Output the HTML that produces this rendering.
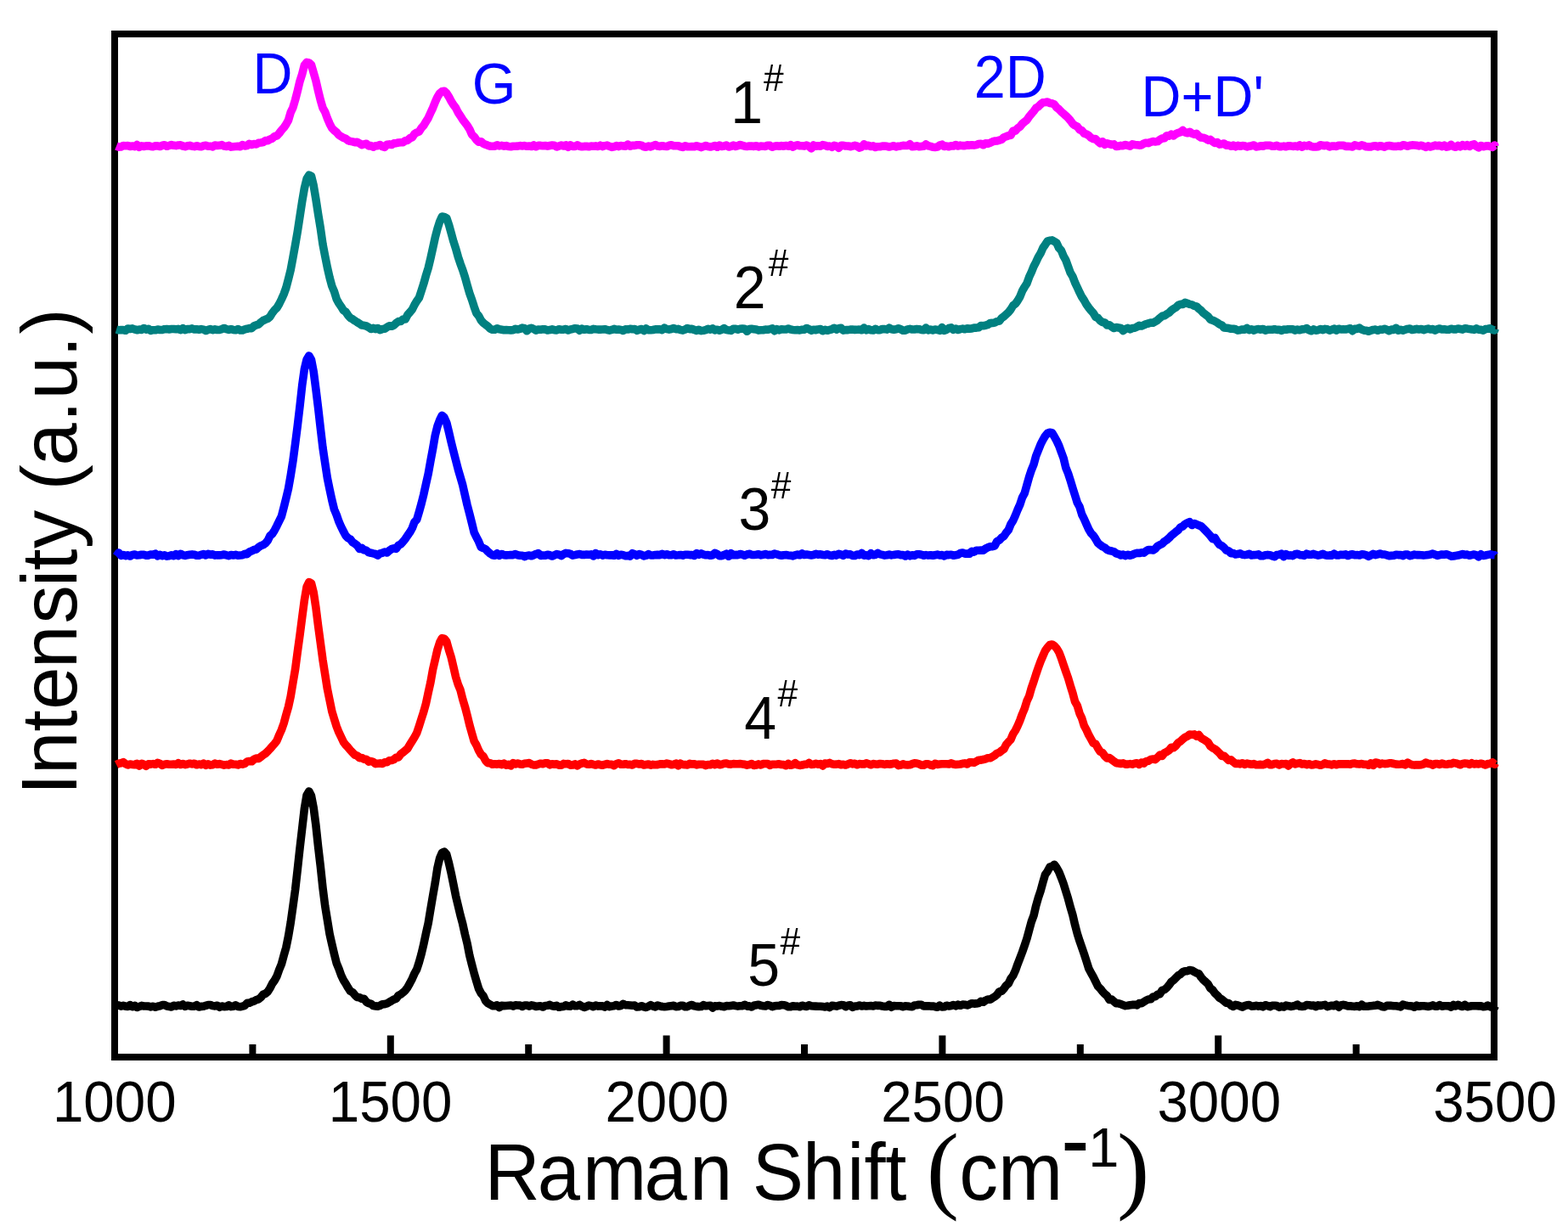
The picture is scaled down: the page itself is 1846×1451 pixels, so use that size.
<!DOCTYPE html>
<html><head><meta charset="utf-8"><title>Raman spectra</title>
<style>html,body{margin:0;padding:0;background:#fff;overflow:hidden}svg{display:block}</style>
</head><body>
<svg width="1846" height="1451" viewBox="0 0 1846 1451"><rect x="0" y="0" width="1846" height="1451" fill="#ffffff"/>
<rect x="135" y="40" width="1624" height="1205" fill="none" stroke="#000" stroke-width="8"/>
<polyline points="137.0,172.0 139.7,173.1 142.4,173.0 145.1,171.6 147.8,171.8 150.5,171.6 153.2,172.5 155.9,172.0 158.6,172.6 161.3,170.5 164.0,173.3 166.7,171.9 169.4,172.5 172.1,171.9 174.8,171.7 177.5,172.4 180.2,172.7 182.9,171.8 185.6,171.9 188.3,172.5 191.0,171.3 193.7,170.8 196.4,172.3 199.1,171.5 201.8,170.5 204.5,171.3 207.2,171.6 209.9,171.0 212.6,170.8 215.3,172.0 218.0,172.7 220.7,171.8 223.4,171.4 226.1,172.3 228.8,172.6 231.5,171.8 234.2,172.4 236.9,172.8 239.6,171.8 242.3,171.3 245.0,172.3 247.7,172.2 250.4,172.9 253.1,171.0 255.8,171.5 258.5,171.3 261.2,170.6 263.9,172.1 266.6,172.4 269.3,171.4 272.0,173.1 274.7,172.7 277.4,172.5 280.1,172.3 282.8,172.7 285.5,170.6 288.2,171.9 290.9,171.5 293.6,169.3 296.3,170.5 299.0,169.6 301.7,169.9 304.4,168.3 307.1,168.0 309.8,167.5 312.5,165.6 315.2,165.8 317.9,164.0 320.6,163.1 323.3,160.6 326.0,159.8 328.7,157.0 331.4,153.4 334.1,150.4 336.8,146.5 339.5,141.6 342.2,132.4 344.9,126.7 347.6,117.5 350.3,107.1 353.0,95.7 355.7,87.3 358.4,76.8 361.1,73.4 363.8,73.9 366.5,76.3 369.2,85.6 371.9,95.0 374.6,106.9 377.3,117.9 380.0,127.2 382.7,131.9 385.4,139.3 388.1,145.7 390.8,150.9 393.5,153.6 396.2,155.7 398.9,159.0 401.6,160.7 404.3,162.3 407.0,163.3 409.7,165.4 412.4,166.4 415.1,166.9 417.8,167.6 420.5,167.4 423.2,168.7 425.9,170.6 428.6,169.9 431.3,169.3 434.0,171.9 436.7,171.6 439.4,173.2 442.1,171.8 444.8,171.6 447.5,170.6 450.2,172.6 452.9,173.3 455.6,170.2 458.3,169.9 461.0,170.5 463.7,168.9 466.4,168.7 469.1,168.0 471.8,167.7 474.5,167.6 477.2,165.7 479.9,165.2 482.6,162.8 485.3,161.7 488.0,157.8 490.7,156.0 493.4,155.0 496.1,150.7 498.8,147.8 501.5,143.3 504.2,138.9 506.9,132.9 509.6,127.1 512.3,120.2 515.0,114.2 517.7,109.9 520.4,107.7 523.1,107.2 525.8,109.8 528.5,114.1 531.2,119.2 533.9,123.6 536.6,127.0 539.3,132.5 542.0,136.4 544.7,140.8 547.4,144.4 550.1,147.9 552.8,152.2 555.5,158.4 558.2,160.9 560.9,164.7 563.6,167.2 566.3,166.7 569.0,169.1 571.7,170.3 574.4,171.3 577.1,172.1 579.8,172.2 582.5,172.1 585.2,170.8 587.9,171.9 590.6,171.4 593.3,172.1 596.0,171.6 598.7,172.5 601.4,172.7 604.1,172.2 606.8,172.3 609.5,172.1 612.2,171.6 614.9,171.9 617.6,171.6 620.3,172.3 623.0,172.0 625.7,172.5 628.4,170.9 631.1,172.7 633.8,171.4 636.5,171.4 639.2,171.8 641.9,171.5 644.6,172.2 647.3,171.5 650.0,171.1 652.7,171.3 655.4,173.0 658.1,172.0 660.8,171.1 663.5,172.0 666.2,170.8 668.9,173.4 671.6,170.8 674.3,172.4 677.0,172.4 679.7,170.8 682.4,172.2 685.1,172.8 687.8,172.4 690.5,172.2 693.2,172.8 695.9,172.1 698.6,172.3 701.3,171.9 704.0,172.5 706.7,171.2 709.4,172.6 712.1,171.6 714.8,171.1 717.5,172.3 720.2,173.4 722.9,172.8 725.6,171.6 728.3,172.6 731.0,171.6 733.7,171.9 736.4,172.1 739.1,170.1 741.8,172.2 744.5,171.2 747.2,171.4 749.9,170.8 752.6,170.8 755.3,171.2 758.0,172.7 760.7,173.3 763.4,172.0 766.1,172.9 768.8,171.8 771.5,170.5 774.2,172.1 776.9,172.4 779.6,171.7 782.3,172.2 785.0,172.5 787.7,171.3 790.4,170.8 793.1,171.8 795.8,171.8 798.5,171.7 801.2,172.8 803.9,173.4 806.6,171.7 809.3,172.6 812.0,172.8 814.7,172.6 817.4,172.8 820.1,171.7 822.8,172.6 825.5,173.6 828.2,172.6 830.9,171.5 833.6,172.5 836.3,173.0 839.0,172.3 841.7,171.5 844.4,173.2 847.1,171.0 849.8,172.4 852.5,172.0 855.2,171.0 857.9,173.0 860.6,172.3 863.3,171.1 866.0,172.5 868.7,171.7 871.4,170.5 874.1,171.4 876.8,172.2 879.5,172.5 882.2,172.1 884.9,172.0 887.6,172.4 890.3,171.8 893.0,172.9 895.7,172.1 898.4,172.2 901.1,172.4 903.8,171.2 906.5,171.4 909.2,173.2 911.9,172.3 914.6,171.8 917.3,172.3 920.0,171.6 922.7,172.2 925.4,171.5 928.1,172.2 930.8,170.7 933.5,173.1 936.2,171.6 938.9,170.7 941.6,171.8 944.3,171.7 947.0,172.1 949.7,171.1 952.4,172.3 955.1,174.9 957.8,171.0 960.5,172.3 963.2,171.8 965.9,172.2 968.6,170.6 971.3,171.1 974.0,172.4 976.7,172.0 979.4,173.3 982.1,171.4 984.8,172.1 987.5,174.3 990.2,171.4 992.9,171.3 995.6,172.0 998.3,172.0 1001.0,172.7 1003.7,172.1 1006.4,171.4 1009.1,172.2 1011.8,174.1 1014.5,173.0 1017.2,169.8 1019.9,171.9 1022.6,171.3 1025.3,172.5 1028.0,171.9 1030.7,173.5 1033.4,172.7 1036.1,172.7 1038.8,172.1 1041.5,172.0 1044.2,172.3 1046.9,173.0 1049.6,172.4 1052.3,171.7 1055.0,173.0 1057.7,172.2 1060.4,171.9 1063.1,171.4 1065.8,171.5 1068.5,171.5 1071.2,169.8 1073.9,172.8 1076.6,172.5 1079.3,171.8 1082.0,172.8 1084.7,172.4 1087.4,172.3 1090.1,170.0 1092.8,171.8 1095.5,172.4 1098.2,173.3 1100.9,173.5 1103.6,173.1 1106.3,171.1 1109.0,170.2 1111.7,172.5 1114.4,172.0 1117.1,172.8 1119.8,171.8 1122.5,172.0 1125.2,170.5 1127.9,172.0 1130.6,171.1 1133.3,171.6 1136.0,171.6 1138.7,170.9 1141.4,171.1 1144.1,170.7 1146.8,171.1 1149.5,170.6 1152.2,169.5 1154.9,169.2 1157.6,170.7 1160.3,168.8 1163.0,169.3 1165.7,168.3 1168.4,166.9 1171.1,166.1 1173.8,166.0 1176.5,165.1 1179.2,164.4 1181.9,161.7 1184.6,160.8 1187.3,159.7 1190.0,159.3 1192.7,154.1 1195.4,154.2 1198.1,151.0 1200.8,149.2 1203.5,145.7 1206.2,143.5 1208.9,141.4 1211.6,137.3 1214.3,134.2 1217.0,131.0 1219.7,127.2 1222.4,125.6 1225.1,122.9 1227.8,120.8 1230.5,120.5 1233.2,120.1 1235.9,121.4 1238.6,121.8 1241.3,123.0 1244.0,126.7 1246.7,128.7 1249.4,131.6 1252.1,133.9 1254.8,136.3 1257.5,138.9 1260.2,142.0 1262.9,145.8 1265.6,147.8 1268.3,149.1 1271.0,152.7 1273.7,153.8 1276.4,157.1 1279.1,158.0 1281.8,159.6 1284.5,162.3 1287.2,163.6 1289.9,163.6 1292.6,166.6 1295.3,168.8 1298.0,166.7 1300.7,170.2 1303.4,168.8 1306.1,169.6 1308.8,170.4 1311.5,169.9 1314.2,172.5 1316.9,172.2 1319.6,171.4 1322.3,171.7 1325.0,170.5 1327.7,171.3 1330.4,172.1 1333.1,169.8 1335.8,170.5 1338.5,170.7 1341.2,171.1 1343.9,170.9 1346.6,169.0 1349.3,168.2 1352.0,168.6 1354.7,167.3 1357.4,166.6 1360.1,166.9 1362.8,166.6 1365.5,164.5 1368.2,163.1 1370.9,162.7 1373.6,159.7 1376.3,160.1 1379.0,158.2 1381.7,159.9 1384.4,157.7 1387.1,156.5 1389.8,155.6 1392.5,153.4 1395.2,155.9 1397.9,156.8 1400.6,155.3 1403.3,157.2 1406.0,158.1 1408.7,157.3 1411.4,160.4 1414.1,162.0 1416.8,162.3 1419.5,163.3 1422.2,165.1 1424.9,164.4 1427.6,166.7 1430.3,168.4 1433.0,167.5 1435.7,170.1 1438.4,169.7 1441.1,169.0 1443.8,171.2 1446.5,171.0 1449.2,172.3 1451.9,171.1 1454.6,172.8 1457.3,171.4 1460.0,172.3 1462.7,171.5 1465.4,171.7 1468.1,173.0 1470.8,172.2 1473.5,171.7 1476.2,171.0 1478.9,172.9 1481.6,172.6 1484.3,171.7 1487.0,172.2 1489.7,171.2 1492.4,171.2 1495.1,171.3 1497.8,172.3 1500.5,172.2 1503.2,171.4 1505.9,172.6 1508.6,172.6 1511.3,172.1 1514.0,172.8 1516.7,171.8 1519.4,171.9 1522.1,172.4 1524.8,172.0 1527.5,172.6 1530.2,171.0 1532.9,173.1 1535.6,171.4 1538.3,171.9 1541.0,170.9 1543.7,172.5 1546.4,173.0 1549.1,172.9 1551.8,172.7 1554.5,170.8 1557.2,171.4 1559.9,171.6 1562.6,171.3 1565.3,172.9 1568.0,172.1 1570.7,172.0 1573.4,172.4 1576.1,171.2 1578.8,171.3 1581.5,171.3 1584.2,172.4 1586.9,172.3 1589.6,172.5 1592.3,172.9 1595.0,170.9 1597.7,171.6 1600.4,172.1 1603.1,170.9 1605.8,171.6 1608.5,172.8 1611.2,172.9 1613.9,172.9 1616.6,172.0 1619.3,171.8 1622.0,172.9 1624.7,171.7 1627.4,172.3 1630.1,173.1 1632.8,171.7 1635.5,171.5 1638.2,172.0 1640.9,172.5 1643.6,172.4 1646.3,172.1 1649.0,172.4 1651.7,170.7 1654.4,171.3 1657.1,172.1 1659.8,171.3 1662.5,170.9 1665.2,171.0 1667.9,171.3 1670.6,171.9 1673.3,171.2 1676.0,172.2 1678.7,173.4 1681.4,171.9 1684.1,173.0 1686.8,172.2 1689.5,171.1 1692.2,171.8 1694.9,171.2 1697.6,172.6 1700.3,171.1 1703.0,173.1 1705.7,172.5 1708.4,170.4 1711.1,172.6 1713.8,173.2 1716.5,171.4 1719.2,172.8 1721.9,170.6 1724.6,172.2 1727.3,170.7 1730.0,172.4 1732.7,170.6 1735.4,169.9 1738.1,172.3 1740.8,173.8 1743.5,171.5 1746.2,172.7 1748.9,172.1 1751.6,171.7 1754.3,172.5 1757.0,173.3 1759.7,171.0 1760.0,172.5" fill="none" stroke="#FF00FF" stroke-width="9.6" stroke-linejoin="round" stroke-linecap="butt"/>
<polyline points="137.0,388.0 139.7,388.8 142.4,388.6 145.1,388.6 147.8,389.3 150.5,387.0 153.2,387.5 155.9,386.9 158.6,387.9 161.3,388.8 164.0,388.0 166.7,388.4 169.4,386.5 172.1,388.1 174.8,387.3 177.5,389.4 180.2,388.7 182.9,388.8 185.6,388.0 188.3,388.5 191.0,388.5 193.7,387.7 196.4,387.6 199.1,387.9 201.8,387.5 204.5,387.5 207.2,387.8 209.9,387.4 212.6,388.6 215.3,386.7 218.0,388.7 220.7,387.5 223.4,387.6 226.1,386.9 228.8,387.9 231.5,387.8 234.2,388.2 236.9,387.6 239.6,388.1 242.3,389.5 245.0,388.3 247.7,387.5 250.4,388.8 253.1,387.9 255.8,388.5 258.5,388.5 261.2,387.7 263.9,386.5 266.6,387.7 269.3,388.4 272.0,387.7 274.7,388.4 277.4,388.8 280.1,387.6 282.8,389.0 285.5,389.0 288.2,387.9 290.9,387.3 293.6,386.5 296.3,386.6 299.0,384.0 301.7,382.8 304.4,382.1 307.1,379.5 309.8,377.5 312.5,376.3 315.2,375.3 317.9,373.0 320.6,368.6 323.3,365.1 326.0,362.5 328.7,358.0 331.4,352.5 334.1,346.5 336.8,339.0 339.5,328.8 342.2,317.9 344.9,303.4 347.6,288.3 350.3,272.7 353.0,255.1 355.7,237.4 358.4,221.6 361.1,210.6 363.8,206.2 366.5,207.4 369.2,218.5 371.9,234.6 374.6,252.3 377.3,268.6 380.0,287.6 382.7,301.6 385.4,315.1 388.1,327.0 390.8,337.0 393.5,343.4 396.2,352.2 398.9,357.1 401.6,361.1 404.3,365.5 407.0,367.3 409.7,371.3 412.4,374.4 415.1,375.8 417.8,377.8 420.5,379.5 423.2,381.1 425.9,383.0 428.6,383.3 431.3,384.0 434.0,385.5 436.7,387.5 439.4,386.3 442.1,387.6 444.8,386.5 447.5,388.7 450.2,387.5 452.9,387.3 455.6,385.4 458.3,383.8 461.0,384.3 463.7,383.1 466.4,380.5 469.1,378.6 471.8,378.5 474.5,376.0 477.2,376.0 479.9,370.8 482.6,367.8 485.3,364.5 488.0,359.0 490.7,354.6 493.4,350.7 496.1,342.4 498.8,334.1 501.5,324.4 504.2,315.6 506.9,304.4 509.6,292.1 512.3,279.7 515.0,269.4 517.7,260.9 520.4,255.0 523.1,255.4 525.8,256.9 528.5,264.7 531.2,274.6 533.9,284.4 536.6,292.8 539.3,302.4 542.0,310.6 544.7,317.9 547.4,326.3 550.1,336.1 552.8,345.3 555.5,352.9 558.2,361.3 560.9,368.9 563.6,372.1 566.3,377.2 569.0,380.2 571.7,382.4 574.4,384.4 577.1,387.1 579.8,388.3 582.5,388.2 585.2,386.8 587.9,387.8 590.6,388.3 593.3,388.8 596.0,388.5 598.7,388.7 601.4,388.9 604.1,388.7 606.8,387.3 609.5,388.0 612.2,387.4 614.9,386.1 617.6,386.7 620.3,389.7 623.0,387.1 625.7,386.2 628.4,387.5 631.1,389.2 633.8,388.0 636.5,388.3 639.2,387.8 641.9,387.9 644.6,389.0 647.3,388.6 650.0,387.9 652.7,388.7 655.4,388.9 658.1,387.8 660.8,388.2 663.5,388.2 666.2,387.5 668.9,388.9 671.6,387.9 674.3,387.5 677.0,386.7 679.7,387.0 682.4,389.2 685.1,387.1 687.8,388.3 690.5,387.7 693.2,388.4 695.9,388.5 698.6,387.4 701.3,387.8 704.0,388.1 706.7,388.1 709.4,388.0 712.1,387.7 714.8,388.5 717.5,389.1 720.2,388.4 722.9,387.4 725.6,388.3 728.3,388.0 731.0,388.4 733.7,389.5 736.4,387.8 739.1,388.0 741.8,387.3 744.5,387.8 747.2,387.5 749.9,389.3 752.6,388.2 755.3,387.5 758.0,389.5 760.7,386.9 763.4,388.7 766.1,388.8 768.8,388.5 771.5,387.8 774.2,387.9 776.9,387.7 779.6,388.6 782.3,386.1 785.0,387.6 787.7,388.1 790.4,387.5 793.1,386.5 795.8,387.8 798.5,387.4 801.2,388.6 803.9,389.1 806.6,388.1 809.3,386.5 812.0,387.8 814.7,387.3 817.4,388.5 820.1,389.4 822.8,388.3 825.5,389.6 828.2,389.2 830.9,388.6 833.6,387.3 836.3,388.2 839.0,386.9 841.7,388.9 844.4,388.2 847.1,389.2 849.8,388.3 852.5,386.6 855.2,388.6 857.9,388.9 860.6,389.4 863.3,387.3 866.0,387.4 868.7,388.2 871.4,387.3 874.1,387.0 876.8,387.2 879.5,390.2 882.2,387.6 884.9,387.3 887.6,387.7 890.3,388.1 893.0,389.1 895.7,388.8 898.4,388.7 901.1,388.1 903.8,388.2 906.5,387.6 909.2,386.9 911.9,389.7 914.6,387.7 917.3,388.9 920.0,387.8 922.7,388.0 925.4,388.0 928.1,387.0 930.8,388.0 933.5,388.4 936.2,388.7 938.9,388.5 941.6,388.9 944.3,388.3 947.0,388.1 949.7,386.5 952.4,387.6 955.1,389.3 957.8,388.2 960.5,388.7 963.2,387.9 965.9,387.5 968.6,389.7 971.3,388.4 974.0,389.3 976.7,388.5 979.4,387.8 982.1,386.3 984.8,388.1 987.5,386.8 990.2,386.3 992.9,389.1 995.6,388.6 998.3,388.6 1001.0,388.1 1003.7,388.0 1006.4,388.4 1009.1,388.2 1011.8,388.1 1014.5,388.7 1017.2,386.1 1019.9,388.8 1022.6,387.6 1025.3,388.7 1028.0,389.0 1030.7,387.4 1033.4,388.7 1036.1,388.7 1038.8,387.5 1041.5,387.6 1044.2,388.1 1046.9,386.2 1049.6,387.7 1052.3,388.2 1055.0,387.7 1057.7,386.7 1060.4,387.7 1063.1,389.2 1065.8,389.1 1068.5,387.9 1071.2,387.4 1073.9,388.0 1076.6,388.0 1079.3,387.5 1082.0,387.7 1084.7,388.5 1087.4,388.8 1090.1,386.1 1092.8,388.8 1095.5,388.1 1098.2,388.9 1100.9,388.0 1103.6,388.4 1106.3,389.3 1109.0,385.6 1111.7,389.3 1114.4,388.2 1117.1,386.5 1119.8,385.9 1122.5,388.3 1125.2,387.0 1127.9,388.5 1130.6,387.6 1133.3,387.1 1136.0,387.8 1138.7,386.9 1141.4,387.1 1144.1,386.9 1146.8,386.1 1149.5,386.1 1152.2,385.7 1154.9,383.5 1157.6,383.8 1160.3,383.3 1163.0,382.4 1165.7,380.6 1168.4,380.4 1171.1,380.0 1173.8,378.6 1176.5,378.1 1179.2,374.6 1181.9,372.7 1184.6,370.2 1187.3,367.7 1190.0,364.4 1192.7,359.9 1195.4,357.8 1198.1,354.1 1200.8,349.5 1203.5,342.7 1206.2,338.0 1208.9,333.8 1211.6,326.3 1214.3,320.5 1217.0,313.8 1219.7,308.6 1222.4,302.7 1225.1,298.3 1227.8,292.1 1230.5,288.2 1233.2,284.1 1235.9,283.2 1238.6,282.9 1241.3,284.4 1244.0,286.3 1246.7,292.1 1249.4,295.0 1252.1,301.6 1254.8,306.3 1257.5,313.9 1260.2,321.3 1262.9,325.7 1265.6,332.9 1268.3,338.5 1271.0,344.4 1273.7,349.8 1276.4,353.8 1279.1,358.7 1281.8,362.4 1284.5,365.8 1287.2,368.7 1289.9,373.3 1292.6,374.5 1295.3,377.8 1298.0,379.6 1300.7,380.0 1303.4,383.0 1306.1,382.7 1308.8,384.9 1311.5,386.5 1314.2,385.5 1316.9,386.0 1319.6,386.5 1322.3,389.6 1325.0,387.4 1327.7,386.4 1330.4,387.8 1333.1,386.6 1335.8,386.3 1338.5,385.0 1341.2,383.4 1343.9,384.0 1346.6,382.9 1349.3,381.6 1352.0,381.0 1354.7,380.0 1357.4,380.2 1360.1,378.8 1362.8,377.1 1365.5,374.6 1368.2,372.3 1370.9,371.7 1373.6,369.9 1376.3,368.4 1379.0,365.6 1381.7,363.6 1384.4,362.1 1387.1,359.5 1389.8,358.3 1392.5,358.5 1395.2,356.4 1397.9,357.3 1400.6,358.4 1403.3,358.9 1406.0,360.4 1408.7,360.9 1411.4,363.7 1414.1,365.7 1416.8,368.7 1419.5,370.7 1422.2,372.6 1424.9,376.2 1427.6,377.2 1430.3,378.4 1433.0,379.9 1435.7,381.9 1438.4,382.9 1441.1,386.0 1443.8,386.3 1446.5,386.6 1449.2,387.2 1451.9,387.2 1454.6,387.8 1457.3,389.1 1460.0,388.7 1462.7,388.0 1465.4,388.1 1468.1,386.5 1470.8,388.6 1473.5,387.8 1476.2,389.1 1478.9,387.9 1481.6,387.6 1484.3,388.2 1487.0,387.5 1489.7,389.1 1492.4,388.3 1495.1,388.3 1497.8,388.3 1500.5,387.8 1503.2,388.4 1505.9,388.2 1508.6,389.4 1511.3,388.1 1514.0,388.3 1516.7,387.7 1519.4,387.7 1522.1,387.8 1524.8,389.1 1527.5,388.1 1530.2,388.8 1532.9,387.9 1535.6,387.8 1538.3,386.5 1541.0,388.7 1543.7,389.7 1546.4,387.9 1549.1,389.2 1551.8,388.8 1554.5,387.5 1557.2,388.7 1559.9,387.4 1562.6,387.8 1565.3,389.1 1568.0,388.2 1570.7,387.1 1573.4,389.2 1576.1,387.2 1578.8,388.0 1581.5,387.8 1584.2,388.0 1586.9,387.4 1589.6,386.8 1592.3,389.6 1595.0,387.3 1597.7,387.4 1600.4,386.1 1603.1,388.1 1605.8,389.1 1608.5,389.2 1611.2,390.3 1613.9,389.3 1616.6,388.4 1619.3,388.1 1622.0,389.2 1624.7,388.1 1627.4,388.2 1630.1,387.3 1632.8,388.2 1635.5,389.7 1638.2,388.0 1640.9,388.4 1643.6,386.2 1646.3,389.2 1649.0,388.4 1651.7,389.2 1654.4,388.3 1657.1,387.4 1659.8,387.0 1662.5,388.5 1665.2,388.0 1667.9,387.3 1670.6,388.0 1673.3,387.5 1676.0,388.6 1678.7,387.7 1681.4,387.1 1684.1,388.0 1686.8,387.6 1689.5,389.2 1692.2,387.6 1694.9,387.0 1697.6,388.0 1700.3,387.8 1703.0,388.2 1705.7,388.2 1708.4,387.2 1711.1,387.9 1713.8,387.9 1716.5,387.0 1719.2,387.5 1721.9,388.1 1724.6,386.7 1727.3,387.1 1730.0,387.6 1732.7,387.9 1735.4,388.4 1738.1,386.9 1740.8,388.2 1743.5,388.4 1746.2,389.2 1748.9,387.6 1751.6,387.2 1754.3,386.7 1757.0,388.4 1759.7,389.0 1760.0,387.4" fill="none" stroke="#008080" stroke-width="9.6" stroke-linejoin="round" stroke-linecap="butt"/>
<polyline points="137.0,655.0 139.7,651.0 142.4,654.3 145.1,653.6 147.8,654.6 150.5,653.8 153.2,655.0 155.9,653.5 158.6,653.1 161.3,654.0 164.0,653.8 166.7,653.2 169.4,653.3 172.1,654.1 174.8,654.1 177.5,653.1 180.2,653.2 182.9,652.1 185.6,654.8 188.3,653.3 191.0,654.6 193.7,653.8 196.4,655.1 199.1,654.7 201.8,653.8 204.5,654.7 207.2,652.7 209.9,654.5 212.6,652.3 215.3,653.8 218.0,654.4 220.7,653.7 223.4,653.2 226.1,652.9 228.8,653.2 231.5,654.3 234.2,654.2 236.9,653.3 239.6,652.5 242.3,654.0 245.0,652.3 247.7,653.1 250.4,652.9 253.1,654.1 255.8,653.7 258.5,653.9 261.2,653.7 263.9,653.0 266.6,653.9 269.3,654.6 272.0,653.5 274.7,654.0 277.4,653.4 280.1,654.3 282.8,654.0 285.5,653.7 288.2,652.4 290.9,652.6 293.6,650.0 296.3,648.9 299.0,647.5 301.7,647.0 304.4,644.5 307.1,642.7 309.8,641.8 312.5,639.9 315.2,636.7 317.9,631.0 320.6,628.8 323.3,624.4 326.0,619.2 328.7,613.7 331.4,608.1 334.1,597.7 336.8,586.8 339.5,575.5 342.2,560.2 344.9,543.0 347.6,522.6 350.3,501.3 353.0,478.5 355.7,453.9 358.4,434.6 361.1,423.5 363.8,419.0 366.5,423.6 369.2,437.6 371.9,458.4 374.6,480.5 377.3,504.2 380.0,527.3 382.7,545.4 385.4,563.1 388.1,576.4 390.8,589.0 393.5,600.0 396.2,606.4 398.9,614.3 401.6,620.4 404.3,625.7 407.0,630.9 409.7,633.7 412.4,635.0 415.1,638.6 417.8,640.3 420.5,642.3 423.2,646.4 425.9,645.4 428.6,647.8 431.3,648.3 434.0,650.6 436.7,651.2 439.4,651.9 442.1,652.5 444.8,654.1 447.5,651.9 450.2,651.3 452.9,650.0 455.6,651.0 458.3,648.5 461.0,646.6 463.7,645.7 466.4,646.3 469.1,642.3 471.8,640.9 474.5,638.0 477.2,634.7 479.9,630.6 482.6,626.8 485.3,622.0 488.0,614.8 490.7,612.0 493.4,602.8 496.1,593.1 498.8,582.3 501.5,569.9 504.2,558.0 506.9,542.8 509.6,528.5 512.3,512.8 515.0,502.0 517.7,494.7 520.4,489.2 523.1,491.8 525.8,498.0 528.5,509.0 531.2,520.8 533.9,531.7 536.6,542.1 539.3,552.6 542.0,561.8 544.7,571.2 547.4,583.1 550.1,594.9 552.8,605.2 555.5,616.0 558.2,627.2 560.9,632.6 563.6,637.8 566.3,644.3 569.0,645.5 571.7,646.8 574.4,649.7 577.1,652.0 579.8,653.7 582.5,654.3 585.2,651.8 587.9,654.4 590.6,652.5 593.3,653.7 596.0,653.9 598.7,653.8 601.4,653.5 604.1,653.6 606.8,652.6 609.5,653.7 612.2,654.3 614.9,654.2 617.6,655.6 620.3,654.4 623.0,654.1 625.7,654.8 628.4,653.7 631.1,652.5 633.8,651.7 636.5,654.5 639.2,654.0 641.9,654.2 644.6,653.2 647.3,653.8 650.0,655.0 652.7,653.8 655.4,652.6 658.1,653.2 660.8,654.6 663.5,652.6 666.2,651.4 668.9,651.7 671.6,652.4 674.3,654.1 677.0,653.6 679.7,652.9 682.4,652.5 685.1,653.4 687.8,653.4 690.5,653.0 693.2,653.3 695.9,652.9 698.6,654.9 701.3,651.6 704.0,653.6 706.7,652.7 709.4,654.1 712.1,653.3 714.8,653.8 717.5,653.9 720.2,653.7 722.9,654.3 725.6,652.4 728.3,654.3 731.0,653.3 733.7,653.8 736.4,654.7 739.1,654.4 741.8,655.1 744.5,651.7 747.2,652.7 749.9,654.3 752.6,652.6 755.3,653.4 758.0,654.9 760.7,654.2 763.4,652.7 766.1,653.9 768.8,654.0 771.5,653.6 774.2,653.4 776.9,653.6 779.6,652.3 782.3,653.6 785.0,652.7 787.7,653.8 790.4,653.8 793.1,652.8 795.8,654.0 798.5,653.8 801.2,653.5 803.9,654.1 806.6,653.2 809.3,653.3 812.0,653.6 814.7,653.5 817.4,654.4 820.1,651.6 822.8,653.3 825.5,651.9 828.2,653.1 830.9,653.7 833.6,653.5 836.3,654.3 839.0,653.7 841.7,651.3 844.4,652.6 847.1,654.7 849.8,654.7 852.5,653.5 855.2,652.2 857.9,655.2 860.6,651.8 863.3,653.7 866.0,653.4 868.7,653.6 871.4,652.5 874.1,653.1 876.8,654.3 879.5,653.0 882.2,652.3 884.9,653.4 887.6,653.5 890.3,653.3 893.0,652.8 895.7,653.9 898.4,653.3 901.1,652.5 903.8,653.6 906.5,653.4 909.2,653.5 911.9,652.1 914.6,652.8 917.3,653.8 920.0,654.2 922.7,653.7 925.4,653.6 928.1,654.0 930.8,654.2 933.5,654.9 936.2,653.8 938.9,653.0 941.6,653.8 944.3,651.9 947.0,653.5 949.7,653.1 952.4,653.5 955.1,653.9 957.8,653.5 960.5,652.3 963.2,653.2 965.9,652.8 968.6,653.5 971.3,653.8 974.0,652.7 976.7,654.1 979.4,654.5 982.1,653.3 984.8,654.1 987.5,652.3 990.2,653.1 992.9,654.3 995.6,652.1 998.3,653.1 1001.0,652.8 1003.7,654.4 1006.4,654.4 1009.1,653.0 1011.8,653.6 1014.5,651.4 1017.2,654.2 1019.9,653.8 1022.6,654.6 1025.3,651.6 1028.0,653.8 1030.7,653.2 1033.4,651.4 1036.1,652.9 1038.8,653.4 1041.5,654.1 1044.2,653.7 1046.9,653.1 1049.6,653.9 1052.3,653.4 1055.0,653.0 1057.7,652.7 1060.4,653.6 1063.1,653.6 1065.8,655.0 1068.5,653.1 1071.2,654.8 1073.9,653.8 1076.6,654.4 1079.3,652.8 1082.0,652.8 1084.7,653.3 1087.4,654.2 1090.1,653.6 1092.8,654.1 1095.5,653.8 1098.2,654.3 1100.9,653.7 1103.6,653.1 1106.3,653.9 1109.0,653.6 1111.7,654.9 1114.4,653.4 1117.1,653.6 1119.8,653.3 1122.5,654.3 1125.2,653.8 1127.9,653.3 1130.6,651.5 1133.3,651.0 1136.0,652.1 1138.7,652.1 1141.4,652.3 1144.1,649.3 1146.8,650.1 1149.5,648.3 1152.2,648.2 1154.9,648.1 1157.6,648.2 1160.3,646.1 1163.0,644.8 1165.7,643.8 1168.4,643.6 1171.1,642.8 1173.8,637.5 1176.5,636.2 1179.2,633.3 1181.9,631.5 1184.6,627.3 1187.3,624.1 1190.0,617.4 1192.7,613.1 1195.4,607.0 1198.1,600.3 1200.8,594.2 1203.5,586.1 1206.2,581.0 1208.9,571.4 1211.6,561.8 1214.3,553.6 1217.0,547.0 1219.7,537.0 1222.4,530.3 1225.1,523.4 1227.8,518.1 1230.5,513.5 1233.2,510.3 1235.9,509.3 1238.6,509.7 1241.3,514.2 1244.0,519.1 1246.7,524.9 1249.4,532.4 1252.1,539.6 1254.8,550.9 1257.5,557.5 1260.2,565.9 1262.9,574.8 1265.6,583.4 1268.3,592.0 1271.0,596.9 1273.7,606.0 1276.4,611.4 1279.1,617.5 1281.8,623.5 1284.5,627.9 1287.2,630.8 1289.9,634.8 1292.6,639.5 1295.3,641.8 1298.0,643.7 1300.7,645.0 1303.4,647.5 1306.1,648.5 1308.8,649.0 1311.5,649.8 1314.2,651.9 1316.9,652.6 1319.6,654.0 1322.3,653.1 1325.0,654.6 1327.7,653.2 1330.4,654.3 1333.1,653.4 1335.8,652.1 1338.5,651.4 1341.2,651.5 1343.9,650.8 1346.6,651.1 1349.3,649.0 1352.0,647.5 1354.7,647.6 1357.4,648.0 1360.1,646.4 1362.8,643.2 1365.5,641.8 1368.2,640.5 1370.9,637.7 1373.6,636.0 1376.3,633.7 1379.0,630.7 1381.7,628.6 1384.4,626.3 1387.1,624.4 1389.8,620.9 1392.5,619.9 1395.2,617.2 1397.9,615.9 1400.6,614.7 1403.3,618.5 1406.0,616.6 1408.7,617.6 1411.4,618.7 1414.1,619.8 1416.8,622.4 1419.5,625.2 1422.2,628.1 1424.9,631.0 1427.6,634.5 1430.3,633.5 1433.0,638.0 1435.7,641.4 1438.4,642.8 1441.1,645.0 1443.8,648.2 1446.5,648.9 1449.2,651.7 1451.9,651.5 1454.6,652.9 1457.3,652.6 1460.0,651.9 1462.7,653.2 1465.4,653.6 1468.1,653.2 1470.8,652.4 1473.5,654.0 1476.2,653.6 1478.9,653.5 1481.6,652.9 1484.3,654.8 1487.0,654.7 1489.7,653.7 1492.4,653.4 1495.1,653.7 1497.8,654.9 1500.5,655.7 1503.2,653.5 1505.9,653.2 1508.6,652.1 1511.3,655.7 1514.0,652.6 1516.7,654.2 1519.4,653.9 1522.1,654.6 1524.8,652.8 1527.5,652.2 1530.2,653.6 1532.9,653.8 1535.6,654.4 1538.3,652.2 1541.0,653.1 1543.7,653.3 1546.4,652.4 1549.1,653.4 1551.8,654.1 1554.5,653.5 1557.2,652.3 1559.9,653.8 1562.6,654.2 1565.3,653.9 1568.0,654.1 1570.7,652.2 1573.4,653.9 1576.1,654.0 1578.8,653.2 1581.5,653.5 1584.2,652.9 1586.9,654.5 1589.6,653.3 1592.3,652.7 1595.0,653.7 1597.7,653.6 1600.4,654.0 1603.1,652.8 1605.8,653.0 1608.5,653.8 1611.2,655.3 1613.9,653.9 1616.6,652.4 1619.3,653.6 1622.0,652.9 1624.7,652.0 1627.4,653.0 1630.1,653.0 1632.8,653.8 1635.5,654.6 1638.2,654.4 1640.9,654.2 1643.6,653.2 1646.3,653.6 1649.0,653.5 1651.7,654.6 1654.4,653.0 1657.1,653.1 1659.8,654.7 1662.5,654.0 1665.2,653.1 1667.9,653.6 1670.6,653.6 1673.3,653.7 1676.0,654.1 1678.7,653.8 1681.4,653.4 1684.1,653.1 1686.8,652.1 1689.5,653.2 1692.2,654.4 1694.9,653.7 1697.6,653.0 1700.3,653.3 1703.0,652.8 1705.7,653.7 1708.4,655.1 1711.1,655.0 1713.8,654.5 1716.5,654.1 1719.2,653.3 1721.9,652.5 1724.6,653.5 1727.3,653.1 1730.0,654.2 1732.7,653.6 1735.4,653.0 1738.1,653.9 1740.8,655.8 1743.5,652.8 1746.2,654.4 1748.9,654.0 1751.6,653.4 1754.3,652.9 1757.0,653.5 1759.7,653.7 1760.0,654.1" fill="none" stroke="#0000FF" stroke-width="9.6" stroke-linejoin="round" stroke-linecap="butt"/>
<polyline points="137.0,900.6 139.7,899.2 142.4,898.7 145.1,897.7 147.8,899.7 150.5,901.0 153.2,900.0 155.9,900.4 158.6,900.8 161.3,899.3 164.0,902.1 166.7,899.3 169.4,900.3 172.1,902.2 174.8,899.9 177.5,900.1 180.2,899.6 182.9,900.3 185.6,898.3 188.3,899.5 191.0,901.4 193.7,900.2 196.4,899.8 199.1,900.3 201.8,900.3 204.5,900.1 207.2,900.5 209.9,898.7 212.6,900.5 215.3,899.5 218.0,900.6 220.7,900.0 223.4,899.2 226.1,899.9 228.8,899.2 231.5,900.8 234.2,900.0 236.9,900.7 239.6,899.1 242.3,901.3 245.0,899.8 247.7,901.1 250.4,900.7 253.1,899.1 255.8,900.3 258.5,899.6 261.2,900.3 263.9,901.1 266.6,900.6 269.3,900.9 272.0,899.1 274.7,900.2 277.4,900.3 280.1,900.9 282.8,899.5 285.5,900.2 288.2,899.4 290.9,897.0 293.6,896.5 296.3,896.8 299.0,894.4 301.7,893.1 304.4,893.5 307.1,891.4 309.8,889.3 312.5,887.5 315.2,884.8 317.9,882.0 320.6,878.9 323.3,875.9 326.0,872.3 328.7,865.6 331.4,859.6 334.1,852.0 336.8,842.1 339.5,832.6 342.2,820.3 344.9,804.0 347.6,788.1 350.3,767.6 353.0,748.1 355.7,727.1 358.4,706.7 361.1,691.0 363.8,685.5 366.5,686.9 369.2,697.7 371.9,715.5 374.6,737.1 377.3,757.1 380.0,777.2 382.7,794.3 385.4,811.4 388.1,824.6 390.8,837.9 393.5,846.9 396.2,855.5 398.9,862.4 401.6,868.0 404.3,873.8 407.0,877.4 409.7,880.2 412.4,883.5 415.1,886.3 417.8,889.1 420.5,890.0 423.2,892.7 425.9,892.5 428.6,894.1 431.3,894.2 434.0,897.1 436.7,896.5 439.4,897.3 442.1,899.6 444.8,899.2 447.5,898.9 450.2,899.5 452.9,897.8 455.6,897.8 458.3,895.7 461.0,895.5 463.7,894.5 466.4,892.2 469.1,891.9 471.8,888.2 474.5,886.2 477.2,883.8 479.9,881.5 482.6,876.9 485.3,872.7 488.0,868.3 490.7,863.3 493.4,855.2 496.1,846.6 498.8,838.3 501.5,828.5 504.2,815.8 506.9,803.6 509.6,788.5 512.3,776.8 515.0,765.1 517.7,756.6 520.4,751.6 523.1,752.1 525.8,755.7 528.5,765.5 531.2,774.1 533.9,785.7 536.6,797.3 539.3,806.2 542.0,812.6 544.7,823.4 547.4,832.3 550.1,842.6 552.8,853.9 555.5,863.5 558.2,872.9 560.9,877.5 563.6,883.9 566.3,888.5 569.0,890.7 571.7,895.9 574.4,898.7 577.1,898.7 579.8,900.3 582.5,899.8 585.2,900.2 587.9,899.5 590.6,900.7 593.3,899.1 596.0,901.1 598.7,900.3 601.4,901.9 604.1,898.7 606.8,899.9 609.5,899.0 612.2,899.9 614.9,900.3 617.6,899.3 620.3,898.9 623.0,898.6 625.7,900.2 628.4,901.0 631.1,900.9 633.8,900.0 636.5,899.2 639.2,899.7 641.9,898.8 644.6,898.7 647.3,900.9 650.0,899.8 652.7,900.3 655.4,899.8 658.1,901.1 660.8,901.2 663.5,899.4 666.2,899.7 668.9,899.5 671.6,901.1 674.3,901.0 677.0,899.8 679.7,901.8 682.4,900.0 685.1,899.0 687.8,898.4 690.5,899.9 693.2,900.3 695.9,899.5 698.6,900.3 701.3,901.0 704.0,900.0 706.7,900.7 709.4,901.3 712.1,900.4 714.8,899.5 717.5,900.3 720.2,900.4 722.9,901.7 725.6,899.7 728.3,898.8 731.0,900.2 733.7,900.3 736.4,899.7 739.1,900.5 741.8,900.3 744.5,901.0 747.2,899.3 749.9,899.4 752.6,900.0 755.3,899.6 758.0,901.0 760.7,900.5 763.4,900.0 766.1,901.2 768.8,900.4 771.5,900.8 774.2,900.6 776.9,899.9 779.6,899.9 782.3,900.0 785.0,899.1 787.7,899.7 790.4,900.7 793.1,900.2 795.8,899.2 798.5,901.9 801.2,899.2 803.9,900.5 806.6,900.6 809.3,901.0 812.0,899.3 814.7,900.0 817.4,899.8 820.1,900.9 822.8,900.3 825.5,900.3 828.2,900.4 830.9,901.6 833.6,900.6 836.3,900.7 839.0,899.3 841.7,900.6 844.4,899.0 847.1,900.8 849.8,900.2 852.5,899.3 855.2,899.1 857.9,900.0 860.6,900.1 863.3,899.6 866.0,899.8 868.7,899.8 871.4,899.6 874.1,899.9 876.8,900.3 879.5,901.1 882.2,900.6 884.9,899.6 887.6,901.4 890.3,901.0 893.0,899.9 895.7,900.9 898.4,899.6 901.1,899.5 903.8,899.5 906.5,901.4 909.2,900.2 911.9,900.3 914.6,900.1 917.3,899.8 920.0,900.5 922.7,900.6 925.4,901.7 928.1,899.4 930.8,901.3 933.5,900.6 936.2,898.7 938.9,900.9 941.6,901.4 944.3,901.0 947.0,900.3 949.7,900.2 952.4,898.5 955.1,900.4 957.8,900.3 960.5,899.4 963.2,900.3 965.9,899.6 968.6,901.9 971.3,899.1 974.0,899.4 976.7,898.4 979.4,899.8 982.1,900.2 984.8,900.1 987.5,899.6 990.2,900.8 992.9,900.3 995.6,901.0 998.3,900.0 1001.0,898.7 1003.7,899.9 1006.4,899.3 1009.1,900.7 1011.8,899.6 1014.5,899.9 1017.2,900.0 1019.9,898.8 1022.6,899.7 1025.3,900.7 1028.0,899.6 1030.7,899.9 1033.4,900.2 1036.1,899.5 1038.8,899.8 1041.5,900.4 1044.2,899.7 1046.9,900.1 1049.6,899.9 1052.3,899.2 1055.0,899.0 1057.7,901.6 1060.4,901.1 1063.1,899.9 1065.8,900.8 1068.5,900.9 1071.2,900.8 1073.9,899.7 1076.6,898.9 1079.3,899.0 1082.0,899.8 1084.7,901.1 1087.4,901.3 1090.1,899.8 1092.8,899.7 1095.5,901.0 1098.2,901.7 1100.9,899.3 1103.6,900.4 1106.3,900.1 1109.0,899.8 1111.7,899.8 1114.4,899.8 1117.1,900.0 1119.8,898.8 1122.5,900.0 1125.2,900.5 1127.9,900.2 1130.6,900.0 1133.3,899.3 1136.0,898.9 1138.7,900.0 1141.4,897.9 1144.1,897.8 1146.8,898.2 1149.5,896.8 1152.2,895.2 1154.9,895.1 1157.6,894.5 1160.3,893.9 1163.0,892.7 1165.7,892.8 1168.4,891.3 1171.1,889.6 1173.8,887.2 1176.5,886.3 1179.2,884.0 1181.9,882.2 1184.6,876.9 1187.3,873.8 1190.0,870.9 1192.7,864.4 1195.4,860.4 1198.1,854.8 1200.8,848.5 1203.5,841.0 1206.2,834.6 1208.9,825.8 1211.6,820.0 1214.3,810.4 1217.0,802.6 1219.7,794.1 1222.4,786.3 1225.1,778.8 1227.8,772.5 1230.5,766.4 1233.2,762.7 1235.9,759.5 1238.6,759.0 1241.3,760.6 1244.0,763.6 1246.7,768.1 1249.4,774.9 1252.1,783.1 1254.8,790.8 1257.5,798.5 1260.2,807.7 1262.9,816.2 1265.6,826.4 1268.3,831.1 1271.0,840.2 1273.7,846.1 1276.4,854.8 1279.1,859.7 1281.8,865.7 1284.5,870.5 1287.2,875.3 1289.9,876.3 1292.6,881.2 1295.3,885.2 1298.0,886.6 1300.7,890.4 1303.4,892.9 1306.1,892.5 1308.8,894.6 1311.5,896.7 1314.2,898.7 1316.9,899.0 1319.6,899.5 1322.3,898.9 1325.0,900.1 1327.7,900.1 1330.4,899.6 1333.1,900.1 1335.8,899.2 1338.5,898.7 1341.2,900.4 1343.9,898.1 1346.6,899.1 1349.3,896.7 1352.0,896.2 1354.7,894.4 1357.4,894.0 1360.1,894.6 1362.8,892.1 1365.5,889.1 1368.2,890.3 1370.9,886.8 1373.6,885.4 1376.3,883.7 1379.0,880.2 1381.7,880.7 1384.4,878.3 1387.1,874.8 1389.8,873.1 1392.5,870.5 1395.2,868.4 1397.9,867.2 1400.6,865.0 1403.3,865.2 1406.0,864.9 1408.7,867.2 1411.4,865.5 1414.1,869.2 1416.8,870.7 1419.5,872.4 1422.2,874.2 1424.9,878.7 1427.6,880.9 1430.3,882.2 1433.0,884.5 1435.7,887.1 1438.4,890.5 1441.1,890.3 1443.8,892.9 1446.5,895.4 1449.2,894.9 1451.9,897.3 1454.6,899.4 1457.3,899.2 1460.0,899.9 1462.7,898.8 1465.4,900.3 1468.1,899.1 1470.8,899.7 1473.5,900.3 1476.2,899.6 1478.9,900.7 1481.6,900.6 1484.3,900.4 1487.0,900.8 1489.7,899.9 1492.4,898.3 1495.1,900.7 1497.8,900.6 1500.5,899.6 1503.2,899.3 1505.9,900.9 1508.6,899.6 1511.3,899.7 1514.0,899.6 1516.7,901.9 1519.4,899.4 1522.1,897.9 1524.8,899.9 1527.5,899.1 1530.2,898.6 1532.9,900.0 1535.6,899.5 1538.3,900.6 1541.0,899.7 1543.7,900.9 1546.4,900.7 1549.1,899.9 1551.8,900.5 1554.5,901.3 1557.2,900.5 1559.9,898.8 1562.6,900.0 1565.3,900.1 1568.0,900.9 1570.7,899.8 1573.4,900.8 1576.1,899.8 1578.8,899.9 1581.5,899.7 1584.2,899.9 1586.9,899.8 1589.6,900.2 1592.3,899.3 1595.0,899.1 1597.7,899.8 1600.4,900.0 1603.1,899.6 1605.8,900.2 1608.5,900.2 1611.2,901.2 1613.9,898.7 1616.6,901.5 1619.3,898.0 1622.0,898.5 1624.7,900.1 1627.4,899.1 1630.1,899.6 1632.8,899.5 1635.5,898.8 1638.2,898.8 1640.9,899.5 1643.6,900.1 1646.3,900.3 1649.0,900.0 1651.7,899.6 1654.4,900.8 1657.1,898.1 1659.8,899.8 1662.5,900.8 1665.2,901.1 1667.9,900.8 1670.6,900.9 1673.3,900.7 1676.0,899.9 1678.7,898.1 1681.4,899.4 1684.1,899.6 1686.8,901.1 1689.5,899.5 1692.2,899.6 1694.9,900.4 1697.6,899.1 1700.3,899.9 1703.0,900.3 1705.7,899.6 1708.4,899.8 1711.1,898.4 1713.8,898.9 1716.5,899.7 1719.2,900.8 1721.9,899.4 1724.6,899.1 1727.3,899.2 1730.0,900.4 1732.7,898.7 1735.4,900.0 1738.1,899.6 1740.8,899.9 1743.5,899.3 1746.2,899.9 1748.9,900.9 1751.6,899.6 1754.3,899.5 1757.0,897.8 1759.7,900.2 1760.0,899.3" fill="none" stroke="#FF0000" stroke-width="9.6" stroke-linejoin="round" stroke-linecap="butt"/>
<polyline points="137.0,1183.7 139.7,1184.1 142.4,1185.1 145.1,1184.4 147.8,1185.2 150.5,1185.4 153.2,1183.6 155.9,1185.6 158.6,1184.3 161.3,1186.5 164.0,1185.4 166.7,1184.4 169.4,1185.0 172.1,1185.0 174.8,1185.1 177.5,1185.9 180.2,1185.2 182.9,1186.1 185.6,1185.3 188.3,1184.7 191.0,1183.6 193.7,1183.6 196.4,1185.0 199.1,1185.4 201.8,1186.0 204.5,1184.3 207.2,1184.9 209.9,1184.1 212.6,1184.5 215.3,1183.0 218.0,1185.4 220.7,1184.2 223.4,1184.7 226.1,1185.2 228.8,1185.1 231.5,1183.7 234.2,1186.0 236.9,1185.4 239.6,1185.2 242.3,1184.3 245.0,1183.5 247.7,1183.5 250.4,1184.6 253.1,1184.9 255.8,1184.2 258.5,1186.3 261.2,1185.0 263.9,1185.6 266.6,1185.5 269.3,1183.9 272.0,1185.6 274.7,1185.2 277.4,1183.8 280.1,1185.4 282.8,1185.7 285.5,1185.1 288.2,1184.3 290.9,1181.4 293.6,1181.3 296.3,1179.9 299.0,1179.1 301.7,1177.6 304.4,1176.8 307.1,1174.6 309.8,1171.3 312.5,1170.2 315.2,1168.0 317.9,1163.7 320.6,1158.4 323.3,1154.6 326.0,1149.6 328.7,1142.0 331.4,1135.5 334.1,1125.4 336.8,1116.0 339.5,1102.8 342.2,1086.6 344.9,1067.5 347.6,1047.9 350.3,1023.9 353.0,999.0 355.7,975.7 358.4,952.4 361.1,936.4 363.8,932.0 366.5,937.3 369.2,951.5 371.9,971.9 374.6,997.3 377.3,1020.3 380.0,1045.8 382.7,1067.0 385.4,1083.6 388.1,1100.1 390.8,1112.1 393.5,1123.6 396.2,1134.4 398.9,1140.8 401.6,1148.5 404.3,1154.2 407.0,1158.6 409.7,1163.2 412.4,1167.3 415.1,1168.7 417.8,1171.9 420.5,1174.4 423.2,1174.8 425.9,1176.3 428.6,1176.3 431.3,1180.0 434.0,1181.6 436.7,1182.2 439.4,1184.5 442.1,1184.9 444.8,1185.1 447.5,1184.3 450.2,1182.8 452.9,1182.6 455.6,1181.9 458.3,1180.2 461.0,1178.7 463.7,1177.1 466.4,1176.2 469.1,1172.4 471.8,1171.2 474.5,1168.9 477.2,1166.4 479.9,1162.8 482.6,1157.9 485.3,1152.7 488.0,1146.5 490.7,1141.6 493.4,1133.2 496.1,1123.5 498.8,1112.0 501.5,1099.3 504.2,1087.2 506.9,1070.9 509.6,1055.0 512.3,1039.7 515.0,1022.0 517.7,1010.6 520.4,1004.3 523.1,1003.1 525.8,1006.4 528.5,1016.6 531.2,1028.5 533.9,1041.8 536.6,1055.3 539.3,1066.7 542.0,1078.0 544.7,1088.1 547.4,1100.4 550.1,1111.3 552.8,1125.3 555.5,1136.0 558.2,1146.4 560.9,1155.6 563.6,1164.5 566.3,1169.8 569.0,1172.9 571.7,1178.9 574.4,1181.6 577.1,1183.1 579.8,1184.6 582.5,1184.8 585.2,1183.8 587.9,1186.7 590.6,1184.4 593.3,1184.6 596.0,1184.5 598.7,1184.3 601.4,1184.1 604.1,1185.1 606.8,1183.8 609.5,1184.0 612.2,1184.1 614.9,1185.4 617.6,1184.0 620.3,1184.0 623.0,1185.1 625.7,1183.9 628.4,1184.5 631.1,1185.5 633.8,1185.1 636.5,1184.8 639.2,1186.0 641.9,1184.5 644.6,1184.3 647.3,1183.4 650.0,1184.8 652.7,1185.3 655.4,1184.3 658.1,1186.3 660.8,1185.6 663.5,1185.5 666.2,1183.8 668.9,1185.0 671.6,1185.1 674.3,1183.2 677.0,1184.8 679.7,1184.6 682.4,1183.4 685.1,1185.2 687.8,1186.4 690.5,1185.4 693.2,1184.1 695.9,1184.6 698.6,1185.7 701.3,1184.1 704.0,1185.1 706.7,1184.8 709.4,1184.9 712.1,1186.1 714.8,1183.6 717.5,1185.7 720.2,1185.0 722.9,1184.7 725.6,1183.5 728.3,1185.0 731.0,1184.5 733.7,1182.4 736.4,1183.7 739.1,1183.8 741.8,1184.0 744.5,1184.3 747.2,1184.1 749.9,1186.0 752.6,1185.7 755.3,1184.7 758.0,1185.9 760.7,1186.5 763.4,1185.2 766.1,1183.7 768.8,1185.1 771.5,1185.9 774.2,1184.0 776.9,1184.8 779.6,1185.5 782.3,1185.7 785.0,1185.5 787.7,1185.1 790.4,1184.7 793.1,1184.3 795.8,1185.6 798.5,1185.5 801.2,1184.4 803.9,1184.2 806.6,1185.8 809.3,1185.6 812.0,1184.2 814.7,1183.5 817.4,1184.9 820.1,1185.4 822.8,1185.6 825.5,1185.5 828.2,1183.6 830.9,1184.8 833.6,1184.5 836.3,1184.2 839.0,1186.9 841.7,1184.8 844.4,1185.0 847.1,1184.6 849.8,1185.3 852.5,1185.7 855.2,1184.6 857.9,1184.8 860.6,1184.4 863.3,1184.0 866.0,1184.6 868.7,1185.1 871.4,1184.8 874.1,1184.6 876.8,1183.3 879.5,1185.1 882.2,1184.9 884.9,1186.0 887.6,1184.3 890.3,1183.7 893.0,1183.2 895.7,1184.3 898.4,1184.7 901.1,1185.0 903.8,1183.5 906.5,1184.3 909.2,1185.6 911.9,1184.8 914.6,1184.5 917.3,1184.5 920.0,1183.5 922.7,1183.7 925.4,1184.4 928.1,1185.8 930.8,1185.7 933.5,1184.7 936.2,1185.3 938.9,1185.1 941.6,1185.7 944.3,1184.2 947.0,1185.0 949.7,1185.5 952.4,1183.8 955.1,1184.7 957.8,1185.0 960.5,1185.1 963.2,1185.2 965.9,1185.3 968.6,1185.6 971.3,1185.9 974.0,1185.1 976.7,1186.6 979.4,1184.4 982.1,1184.6 984.8,1185.1 987.5,1184.2 990.2,1183.6 992.9,1183.7 995.6,1185.7 998.3,1184.3 1001.0,1183.7 1003.7,1186.3 1006.4,1185.1 1009.1,1185.0 1011.8,1184.0 1014.5,1185.0 1017.2,1184.4 1019.9,1185.0 1022.6,1184.8 1025.3,1184.6 1028.0,1185.0 1030.7,1184.1 1033.4,1184.4 1036.1,1184.2 1038.8,1185.1 1041.5,1185.4 1044.2,1185.4 1046.9,1183.2 1049.6,1186.2 1052.3,1184.6 1055.0,1184.7 1057.7,1184.7 1060.4,1184.7 1063.1,1185.8 1065.8,1184.9 1068.5,1185.0 1071.2,1185.5 1073.9,1185.8 1076.6,1184.0 1079.3,1183.8 1082.0,1183.2 1084.7,1183.3 1087.4,1185.0 1090.1,1184.9 1092.8,1184.8 1095.5,1185.1 1098.2,1185.0 1100.9,1185.7 1103.6,1186.2 1106.3,1184.2 1109.0,1186.0 1111.7,1185.7 1114.4,1184.2 1117.1,1185.0 1119.8,1184.5 1122.5,1183.5 1125.2,1184.8 1127.9,1183.2 1130.6,1184.3 1133.3,1183.1 1136.0,1183.3 1138.7,1183.9 1141.4,1182.9 1144.1,1181.7 1146.8,1182.1 1149.5,1181.9 1152.2,1181.5 1154.9,1179.4 1157.6,1180.2 1160.3,1178.3 1163.0,1177.0 1165.7,1177.2 1168.4,1175.4 1171.1,1173.9 1173.8,1171.6 1176.5,1167.9 1179.2,1167.3 1181.9,1164.5 1184.6,1160.6 1187.3,1158.3 1190.0,1152.7 1192.7,1149.0 1195.4,1143.1 1198.1,1135.4 1200.8,1128.5 1203.5,1121.4 1206.2,1113.6 1208.9,1105.5 1211.6,1095.4 1214.3,1085.5 1217.0,1078.3 1219.7,1066.7 1222.4,1057.2 1225.1,1049.2 1227.8,1039.3 1230.5,1030.0 1233.2,1026.3 1235.9,1021.2 1238.6,1020.4 1241.3,1018.2 1244.0,1022.1 1246.7,1026.9 1249.4,1033.6 1252.1,1040.9 1254.8,1049.6 1257.5,1058.4 1260.2,1068.4 1262.9,1077.7 1265.6,1089.3 1268.3,1099.6 1271.0,1108.2 1273.7,1115.9 1276.4,1123.7 1279.1,1132.1 1281.8,1140.7 1284.5,1145.9 1287.2,1150.7 1289.9,1156.2 1292.6,1161.6 1295.3,1164.3 1298.0,1167.8 1300.7,1170.7 1303.4,1173.0 1306.1,1177.4 1308.8,1177.1 1311.5,1179.5 1314.2,1181.7 1316.9,1181.8 1319.6,1182.6 1322.3,1183.7 1325.0,1184.6 1327.7,1184.3 1330.4,1183.8 1333.1,1183.4 1335.8,1183.2 1338.5,1183.9 1341.2,1181.5 1343.9,1181.7 1346.6,1180.0 1349.3,1178.3 1352.0,1177.0 1354.7,1176.8 1357.4,1174.0 1360.1,1173.7 1362.8,1171.2 1365.5,1170.7 1368.2,1166.3 1370.9,1165.6 1373.6,1163.3 1376.3,1160.2 1379.0,1156.4 1381.7,1154.4 1384.4,1151.6 1387.1,1148.8 1389.8,1147.4 1392.5,1144.8 1395.2,1143.7 1397.9,1143.6 1400.6,1142.5 1403.3,1142.9 1406.0,1144.6 1408.7,1146.0 1411.4,1146.9 1414.1,1151.0 1416.8,1154.2 1419.5,1156.5 1422.2,1159.0 1424.9,1163.9 1427.6,1165.9 1430.3,1169.7 1433.0,1172.2 1435.7,1175.4 1438.4,1176.9 1441.1,1179.1 1443.8,1181.3 1446.5,1181.5 1449.2,1184.1 1451.9,1185.4 1454.6,1183.4 1457.3,1184.0 1460.0,1185.0 1462.7,1186.2 1465.4,1184.6 1468.1,1183.8 1470.8,1183.6 1473.5,1185.1 1476.2,1185.0 1478.9,1184.3 1481.6,1185.1 1484.3,1184.6 1487.0,1185.8 1489.7,1183.7 1492.4,1184.5 1495.1,1185.7 1497.8,1184.3 1500.5,1184.2 1503.2,1184.6 1505.9,1186.3 1508.6,1185.1 1511.3,1186.0 1514.0,1184.1 1516.7,1184.7 1519.4,1185.4 1522.1,1185.0 1524.8,1184.4 1527.5,1183.1 1530.2,1185.3 1532.9,1185.4 1535.6,1185.2 1538.3,1183.5 1541.0,1183.7 1543.7,1184.4 1546.4,1184.0 1549.1,1185.6 1551.8,1183.9 1554.5,1184.5 1557.2,1183.9 1559.9,1183.4 1562.6,1185.6 1565.3,1184.9 1568.0,1184.2 1570.7,1184.8 1573.4,1183.1 1576.1,1186.1 1578.8,1184.0 1581.5,1183.3 1584.2,1184.0 1586.9,1185.0 1589.6,1184.8 1592.3,1185.3 1595.0,1185.4 1597.7,1184.8 1600.4,1185.6 1603.1,1183.3 1605.8,1185.2 1608.5,1185.2 1611.2,1185.1 1613.9,1184.7 1616.6,1184.4 1619.3,1184.3 1622.0,1183.4 1624.7,1184.4 1627.4,1185.7 1630.1,1185.9 1632.8,1184.4 1635.5,1184.4 1638.2,1184.4 1640.9,1184.7 1643.6,1184.8 1646.3,1185.2 1649.0,1185.9 1651.7,1183.2 1654.4,1183.9 1657.1,1184.4 1659.8,1184.7 1662.5,1185.1 1665.2,1186.2 1667.9,1184.1 1670.6,1185.3 1673.3,1184.7 1676.0,1184.8 1678.7,1185.0 1681.4,1185.5 1684.1,1184.9 1686.8,1183.9 1689.5,1185.2 1692.2,1185.2 1694.9,1183.6 1697.6,1185.2 1700.3,1184.7 1703.0,1184.7 1705.7,1184.9 1708.4,1186.2 1711.1,1183.5 1713.8,1184.9 1716.5,1183.3 1719.2,1184.8 1721.9,1185.5 1724.6,1183.4 1727.3,1185.7 1730.0,1185.2 1732.7,1184.7 1735.4,1184.7 1738.1,1184.8 1740.8,1184.9 1743.5,1184.8 1746.2,1185.7 1748.9,1185.5 1751.6,1184.1 1754.3,1185.7 1757.0,1186.3 1759.7,1186.1 1760.0,1185.1" fill="none" stroke="#000000" stroke-width="9.6" stroke-linejoin="round" stroke-linecap="butt"/>
<line x1="459.8" y1="1219.5" x2="459.8" y2="1242" stroke="#000" stroke-width="8"/>
<line x1="784.6" y1="1219.5" x2="784.6" y2="1242" stroke="#000" stroke-width="8"/>
<line x1="1109.4" y1="1219.5" x2="1109.4" y2="1242" stroke="#000" stroke-width="8"/>
<line x1="1434.2" y1="1219.5" x2="1434.2" y2="1242" stroke="#000" stroke-width="8"/>
<line x1="297.4" y1="1230" x2="297.4" y2="1242" stroke="#000" stroke-width="8"/>
<line x1="622.2" y1="1230" x2="622.2" y2="1242" stroke="#000" stroke-width="8"/>
<line x1="947.0" y1="1230" x2="947.0" y2="1242" stroke="#000" stroke-width="8"/>
<line x1="1271.8" y1="1230" x2="1271.8" y2="1242" stroke="#000" stroke-width="8"/>
<line x1="1596.6" y1="1230" x2="1596.6" y2="1242" stroke="#000" stroke-width="8"/>
<text transform="translate(61.93,1320.80) scale(1,1.035)" font-size="65.5" font-family="'Liberation Sans', Arial, sans-serif" fill="#000">1000</text>
<text transform="translate(386.73,1320.80) scale(1,1.035)" font-size="65.5" font-family="'Liberation Sans', Arial, sans-serif" fill="#000">1500</text>
<text transform="translate(712.38,1320.80) scale(1,1.035)" font-size="65.5" font-family="'Liberation Sans', Arial, sans-serif" fill="#000">2000</text>
<text transform="translate(1037.18,1320.80) scale(1,1.035)" font-size="65.5" font-family="'Liberation Sans', Arial, sans-serif" fill="#000">2500</text>
<text transform="translate(1362.38,1320.80) scale(1,1.035)" font-size="65.5" font-family="'Liberation Sans', Arial, sans-serif" fill="#000">3000</text>
<text transform="translate(1687.18,1320.80) scale(1,1.035)" font-size="65.5" font-family="'Liberation Sans', Arial, sans-serif" fill="#000">3500</text>
<text transform="translate(570.49,1413) scale(1,1.05)" x="-0.0 62.2 115.5 188.0 241.4 290.9 315.2 374.5 426.7 446.9 471.7" y="0" font-size="90.3" font-family="'Liberation Sans', Arial, sans-serif" fill="#000">Raman Shift</text>
<text transform="translate(1090.65,1413.50) scale(1,1.0)" font-size="115" font-family="'Liberation Serif', serif" fill="#000">(</text>
<text transform="translate(1129.31,1413.00) scale(1,1.05)" font-size="91.5" font-family="'Liberation Sans', Arial, sans-serif" fill="#000">cm</text>
<text transform="translate(1249.36,1380.50) scale(1,1.15)" font-size="100" font-family="'Liberation Sans', Arial, sans-serif" fill="#000">-</text>
<text transform="translate(1281.35,1374.20) scale(1,1.0)" font-size="65" font-family="'Liberation Sans', Arial, sans-serif" fill="#000">1</text>
<text transform="translate(1315.09,1413.50) scale(1,1.0)" font-size="115" font-family="'Liberation Serif', serif" fill="#000">)</text>
<text transform="translate(90,936.14) rotate(-90) scale(1,1.03)" x="-0.1 24.1 74.6 100.4 149.2 201.7 245.2 264.4 290.2 334.6 359.0 387.6 438.9 466.0 515.4 542.7" y="0" font-size="90.4" font-family="'Liberation Sans', Arial, sans-serif" fill="#000">Intensity (a.u.)</text>
<text transform="translate(297.57,109.80) scale(1,1.04)" font-size="65" font-family="'Liberation Sans', Arial, sans-serif" fill="#0000FF">D</text>
<text transform="translate(555.66,122.30) scale(1,1.04)" font-size="66.5" font-family="'Liberation Sans', Arial, sans-serif" fill="#0000FF">G</text>
<text transform="translate(1146.86,115.00) scale(1,1.06)" font-size="66.5" font-family="'Liberation Sans', Arial, sans-serif" fill="#0000FF">2D</text>
<text transform="translate(1343.57,137.00) scale(1,1.04)" font-size="65" font-family="'Liberation Sans', Arial, sans-serif" fill="#0000FF">D+D'</text>
<text transform="translate(860.36,144.80) scale(1,1.04)" font-size="68" font-family="'Liberation Sans', Arial, sans-serif" fill="#000">1<tspan font-size="42.5" dx="0.94" dy="-36.44">#</tspan></text>
<text transform="translate(863.68,363.10) scale(1,1.04)" font-size="68" font-family="'Liberation Sans', Arial, sans-serif" fill="#000">2<tspan font-size="42.5" dx="3.21" dy="-36.63">#</tspan></text>
<text transform="translate(869.41,624.00) scale(1,1.04)" font-size="68" font-family="'Liberation Sans', Arial, sans-serif" fill="#000">3<tspan font-size="42.5" dx="0.58" dy="-35.67">#</tspan></text>
<text transform="translate(876.14,870.40) scale(1,1.04)" font-size="68" font-family="'Liberation Sans', Arial, sans-serif" fill="#000">4<tspan font-size="42.5" dx="1.66" dy="-36.73">#</tspan></text>
<text transform="translate(880.28,1161.20) scale(1,1.04)" font-size="68" font-family="'Liberation Sans', Arial, sans-serif" fill="#000">5<tspan font-size="42.5" dx="0.42" dy="-35.96">#</tspan></text></svg>
</body></html>
